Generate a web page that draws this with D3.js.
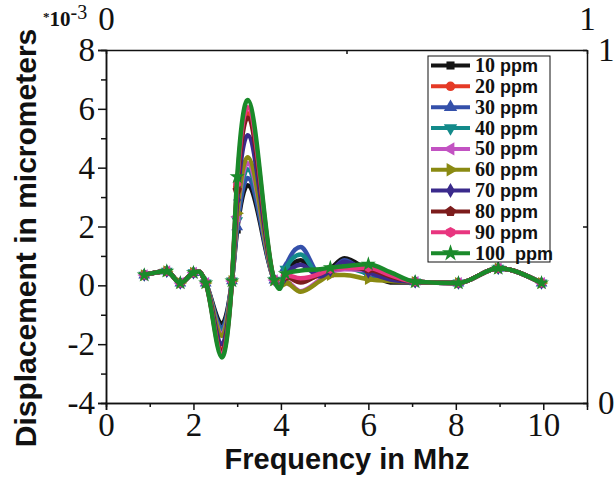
<!DOCTYPE html>
<html>
<head>
<meta charset="utf-8">
<script src="https://cdn.jsdelivr.net/npm/d3@7"></script>
<style>
body { margin: 0; background: #fff; }
text { fill: #111; }
</style>
</head>
<body>
<script>
// frequency points (MHz)
var freq = [0.875, 1.39, 1.70, 2.00, 2.12, 2.28, 2.65, 2.88, 3.00, 3.24, 3.85, 3.97,
            4.10, 4.45, 4.90, 5.13, 5.45, 6.00, 6.50, 7.07, 8.06, 8.97, 9.96];
// the points that carry a symbol
var marked = [0.875, 1.39, 1.70, 2.00, 2.28, 2.88, 3.00, 3.85, 4.10, 5.13, 6.00, 7.07, 8.06, 8.97, 9.96];

// displacement (*10^-3 micrometers), one list per concentration
var ppm10  = [0.35, 0.48, 0.08, 0.43, 0.47, 0.08, -1.30, 0.15, 1.88, 3.40, 0.18, -0.05,
              0.40, 0.85, 0.30, 0.55, 0.92, 0.50, 0.10, 0.10, 0.08, 0.58, 0.08];
var ppm20  = [0.35, 0.48, 0.08, 0.43, 0.47, 0.08, -2.20, 0.15, 3.35, 5.85, 0.18, -0.08,
              0.30, 0.20, 0.35, 0.55, 0.65, 0.60, 0.30, 0.12, 0.08, 0.58, 0.08];
var ppm30  = [0.35, 0.48, 0.08, 0.43, 0.47, 0.08, -1.45, 0.15, 1.99, 3.65, 0.18, -0.05,
              0.60, 1.30, 0.35, 0.45, 0.85, 0.35, 0.20, 0.12, 0.08, 0.58, 0.08];
var ppm40  = [0.35, 0.48, 0.08, 0.43, 0.47, 0.08, -1.55, 0.15, 2.20, 3.95, 0.18, -0.05,
              0.55, 1.05, 0.30, 0.45, 0.60, 0.40, 0.25, 0.12, 0.08, 0.58, 0.08];
var ppm50  = [0.35, 0.48, 0.08, 0.43, 0.47, 0.08, -1.65, 0.15, 2.33, 4.15, 0.18, -0.05,
              0.15, -0.20, 0.20, 0.45, 0.55, 0.50, 0.30, 0.12, 0.08, 0.58, 0.08];
var ppm60  = [0.35, 0.48, 0.08, 0.43, 0.47, 0.08, -1.72, 0.15, 2.45, 4.35, 0.18, -0.05,
              0.10, -0.22, 0.15, 0.35, 0.35, 0.21, 0.15, 0.12, 0.08, 0.58, 0.08];
var ppm70  = [0.35, 0.48, 0.08, 0.43, 0.47, 0.08, -2.00, 0.15, 2.90, 5.10, 0.18, -0.05,
              0.30, 0.70, 0.30, 0.50, 0.80, 0.45, 0.20, 0.12, 0.08, 0.58, 0.08];
var ppm80  = [0.35, 0.48, 0.08, 0.43, 0.47, 0.08, -2.25, 0.15, 3.24, 5.70, 0.18, -0.08,
              0.30, 0.10, 0.40, 0.55, 0.60, 0.55, 0.30, 0.12, 0.08, 0.58, 0.08];
var ppm90  = [0.35, 0.48, 0.08, 0.43, 0.47, 0.08, -2.35, 0.15, 3.47, 6.05, 0.18, -0.08,
              0.35, 0.24, 0.40, 0.55, 0.60, 0.60, 0.35, 0.12, 0.08, 0.58, 0.08];
var ppm100 = [0.35, 0.48, 0.08, 0.43, 0.47, 0.08, -2.45, 0.15, 3.69, 6.30, 0.18, -0.12,
              0.40, 0.50, 0.55, 0.60, 0.65, 0.72, 0.45, 0.12, 0.08, 0.58, 0.08];

var seriesNames = ["10", "20", "30", "40", "50", "60", "70", "80", "90", "100"];
var seriesValues = [ppm10, ppm20, ppm30, ppm40, ppm50, ppm60, ppm70, ppm80, ppm90, ppm100];
var colors = ["#141414", "#e53a26", "#3450aa", "#138a8a", "#c252c2", "#8a8a12",
              "#3a2a8c", "#7c1c1c", "#e8357f", "#1a8a2a"];

var yTicks = [-4, -2, 0, 2, 4, 6, 8];
var yMinor = [-3, -1, 1, 3, 5, 7];
var xTicks = [0, 2, 4, 6, 8, 10];
var xMinor = [1, 3, 5, 7, 9];

var margin = {top: 50, right: 28, bottom: 77, left: 106},
    width = 615 - margin.left - margin.right,
    height = 480 - margin.top - margin.bottom;

var x = d3.scaleLinear().domain([0, 11]).range([0, width]);
var y = d3.scaleLinear().domain([-4, 8]).range([height, 0]);
var x2 = d3.scaleLinear().domain([0, 1]).range([0, width]);
var y2 = d3.scaleLinear().domain([0, 1]).range([height, 0]);

var svg = d3.select("body").append("svg")
    .attr("width", 615)
    .attr("height", 480);

var g = svg.append("g")
    .attr("transform", "translate(" + margin.left + "," + margin.top + ")");

// polygon symbol types for the triangles, pentagon, hexagon
function polygon(n, rot) {
  return {
    draw: function(ctx, size) {
      var r = Math.sqrt(size / (n / 2 * Math.sin(2 * Math.PI / n)));
      for (var i = 0; i < n; i++) {
        var a = rot + i * 2 * Math.PI / n;
        var px = r * Math.sin(a), py = -r * Math.cos(a);
        if (i == 0) ctx.moveTo(px, py); else ctx.lineTo(px, py);
      }
      ctx.closePath();
    }
  };
}
var shapes = [d3.symbolSquare, d3.symbolCircle, polygon(3, 0), polygon(3, Math.PI),
              polygon(3, -Math.PI / 2), polygon(3, Math.PI / 2), d3.symbolDiamond,
              polygon(5, 0), polygon(6, 0), d3.symbolStar];
var sizes = [50, 55, 60, 60, 60, 60, 50, 58, 58, 70];

var line = d3.line()
    .x(function(d) { return x(d[0]); })
    .y(function(d) { return y(d[1]); })
    .curve(d3.curveMonotoneX);

// curves with their symbols, 10 ppm first so 100 ppm ends on top
seriesValues.forEach(function(vals, i) {
  var pts = freq.map(function(f, j) { return [f, vals[j]]; });
  g.append("path")
      .datum(pts)
      .attr("d", line)
      .attr("fill", "none")
      .attr("stroke", colors[i])
      .attr("stroke-width", 4.5)
      .attr("stroke-linejoin", "round");
  g.selectAll(".pt" + i)
      .data(pts.filter(function(d) { return marked.indexOf(d[0]) >= 0; }))
    .enter().append("path")
      .attr("transform", function(d) { return "translate(" + x(d[0]) + "," + y(d[1]) + ")"; })
      .attr("d", d3.symbol().type(shapes[i]).size(sizes[i]))
      .attr("fill", colors[i]);
});

// axes
var serif = "'Liberation Serif', 'Times New Roman', serif";
function styleAxis(sel) {
  sel.select(".domain").attr("stroke", "#111").attr("stroke-width", 1.5);
  sel.selectAll(".tick line").attr("stroke", "#111").attr("stroke-width", 1.5);
  sel.selectAll("text").attr("font-family", serif).attr("font-size", 33).attr("fill", "#111");
}

g.append("g")
    .call(d3.axisLeft(y).tickValues(yTicks).tickSize(8).tickPadding(3)
      .tickFormat(function(d) { return d < 0 ? "-" + Math.abs(d) : d; }))
    .call(styleAxis);
g.append("g")
    .call(d3.axisLeft(y).tickValues(yMinor).tickSize(5).tickFormat(""))
    .call(styleAxis);

g.append("g")
    .attr("transform", "translate(0," + height + ")")
    .call(d3.axisBottom(x).tickValues(xTicks).tickSize(7).tickPadding(3))
    .call(styleAxis);
g.append("g")
    .attr("transform", "translate(0," + height + ")")
    .call(d3.axisBottom(x).tickValues(xMinor).tickSize(4).tickFormat(""))
    .call(styleAxis);

g.append("g")
    .call(d3.axisTop(x2).tickValues([0, 0.5, 1]).tickSizeInner(-4).tickSizeOuter(0).tickPadding(20)
      .tickFormat(function(d) { return d == 0.5 ? "" : d; }))
    .call(styleAxis);
g.append("g")
    .attr("transform", "translate(" + width + ",0)")
    .call(d3.axisRight(y2).tickValues([0, 0.5, 1]).tickSizeInner(-4).tickSizeOuter(0).tickPadding(11)
      .tickFormat(function(d) { return d == 0.5 ? "" : d; }))
    .call(styleAxis);

// exponent note in the corner
var note = svg.append("text")
    .attr("x", 43)
    .attr("y", 26)
    .attr("font-family", serif)
    .attr("font-weight", "bold");
note.append("tspan").attr("font-size", 13).attr("dy", -5).text("*");
note.append("tspan").attr("font-size", 21).attr("dy", 5).text("10");
note.append("tspan").attr("font-size", 20).attr("dy", -7).attr("font-weight", "normal").text("-3");

// axis titles
var sans = "'Liberation Sans', Arial, sans-serif";
svg.append("text")
    .attr("transform", "translate(36,238) rotate(-90)")
    .attr("text-anchor", "middle")
    .attr("font-family", sans)
    .attr("font-weight", "bold")
    .attr("font-size", 30)
    .text("Displacement in micrometers");

svg.append("text")
    .attr("x", 347)
    .attr("y", 469)
    .attr("text-anchor", "middle")
    .attr("font-family", sans)
    .attr("font-weight", "bold")
    .attr("font-size", 29)
    .text("Frequency in Mhz");

// legend
var legend = svg.append("g").attr("transform", "translate(428,56)");
legend.append("rect")
    .attr("width", 122)
    .attr("height", 206)
    .attr("fill", "#fff")
    .attr("stroke", "#111")
    .attr("stroke-width", 1);

var rows = legend.selectAll(".row")
    .data(seriesNames)
  .enter().append("g")
    .attr("transform", function(d, i) { return "translate(0," + (9.5 + i * 20.85) + ")"; });

rows.append("line")
    .attr("x1", 3).attr("x2", 42)
    .attr("stroke", function(d, i) { return colors[i]; })
    .attr("stroke-width", 4);
rows.append("path")
    .attr("transform", "translate(22.5,0)")
    .attr("d", function(d, i) { return d3.symbol().type(shapes[i]).size(sizes[i] * 1.3)(); })
    .attr("fill", function(d, i) { return colors[i]; });

var lt = rows.append("text")
    .attr("x", 47)
    .attr("y", 6.5)
    .style("white-space", "pre");
lt.append("tspan")
    .attr("font-family", serif)
    .attr("font-weight", "bold")
    .attr("font-size", 20)
    .text(function(d) { return d; });
lt.append("tspan")
    .attr("font-family", sans)
    .attr("font-weight", "bold")
    .attr("font-size", 18)
    .text(function(d) { return d == "100" ? "  ppm" : " ppm"; });
</script>
</body>
</html>
